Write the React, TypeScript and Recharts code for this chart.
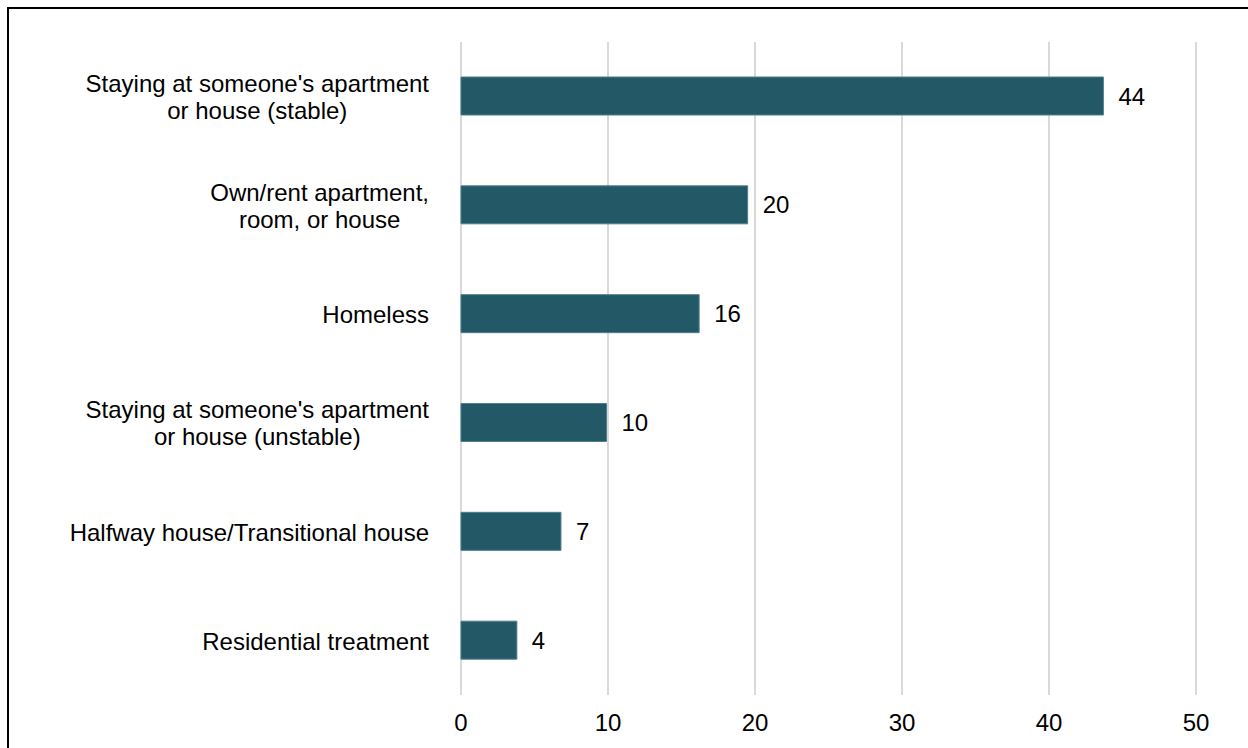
import { Bar, BarChart, CartesianGrid, LabelList, XAxis, YAxis } from "recharts";

const categories = [
	"Staying at someone's apartment\nor house (stable)",
	"Own/rent apartment,\nroom, or house",
	"Homeless",
	"Staying at someone's apartment\nor house (unstable)",
	"Halfway house/Transitional house",
	"Residential treatment",
];
const values = [43.7, 19.5, 16.2, 9.9, 6.8, 3.8];
const xTicks = [0, 10, 20, 30, 40, 50];

const data = categories.map((name, i) => ({ name, value: values[i] }));

const FONT = "'Liberation Sans', Arial, sans-serif";
const BAR_COLOR = "#235966";

let ctx: CanvasRenderingContext2D | null = null;
function textWidth(s: string) {
	if (!ctx) {
		ctx = document.createElement("canvas").getContext("2d");
	}
	if (!ctx) return s.length * 12;
	ctx.font = `24px ${FONT}`;
	return ctx.measureText(s).width;
}

function CategoryTick({ x, y, payload }: any) {
	const lines: string[] = String(payload.value).split("\n");
	const maxW = Math.max(...lines.map(textWidth));
	const right = x - 24;
	const cx = right - maxW / 2;
	const lh = 27;
	const y0 = y - ((lines.length - 1) * lh) / 2;
	return (
		<text
			x={cx}
			y={y0}
			textAnchor="middle"
			dominantBaseline="central"
			fontSize={24}
			fontFamily={FONT}
			fill="#000"
		>
			{lines.map((l, i) => (
				<tspan key={i} x={cx} y={y0 + i * lh} dominantBaseline="central">
					{l}
				</tspan>
			))}
		</text>
	);
}

export default function App() {
	return (
		<div
			style={{
				position: "fixed",
				left: 0,
				top: 0,
				width: 1248,
				height: 748,
				overflow: "hidden",
				background: "#fff",
			}}
		>
			<div
				style={{
					position: "absolute",
					left: 7,
					top: 7,
					width: 1270,
					height: 770,
					border: "2px solid #000",
					boxSizing: "border-box",
				}}
			/>
			<div style={{ position: "absolute", left: 0, top: 0 }}>
				<BarChart
					width={1248}
					height={748}
					data={data}
					layout="vertical"
					margin={{ top: 42, right: 52, left: 0, bottom: 14 }}
				>
					<CartesianGrid horizontal={false} stroke="#d9d9d9" strokeWidth={2} />
					<XAxis
						type="number"
						domain={[0, 50]}
						ticks={xTicks}
						axisLine={false}
						tickLine={false}
						tickMargin={13}
						height={39}
						tick={{ fill: "#000", fontSize: 24, fontFamily: FONT }}
					/>
					<YAxis
						type="category"
						dataKey="name"
						width={461}
						axisLine={false}
						tickLine={false}
						tick={<CategoryTick />}
					/>
					<Bar
						dataKey="value"
						fill={BAR_COLOR}
						stroke="#4f7f89"
						strokeWidth={1}
						barSize={38}
						isAnimationActive={false}
					>
						<LabelList
							dataKey="value"
							position="right"
							offset={15}
							formatter={(v: any) => Math.round(Number(v))}
							fill="#000"
							fontSize={24}
							fontFamily={FONT}
						/>
					</Bar>
				</BarChart>
			</div>
		</div>
	);
}
